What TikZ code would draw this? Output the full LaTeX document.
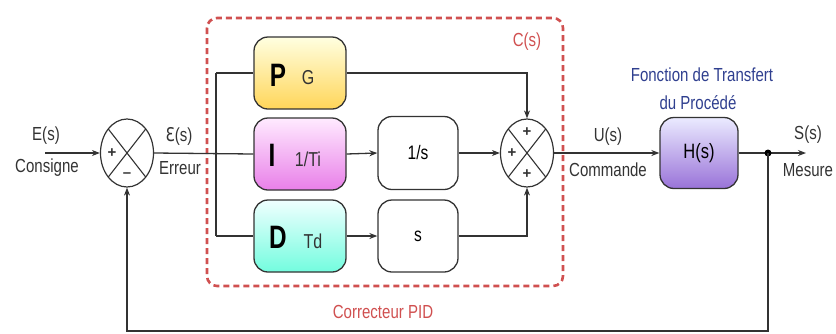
\documentclass[tikz,border=0pt]{standalone}
\usepackage{graphicx}
\usepackage{fontspec}
\setmainfont{Liberation Sans}
\newfontfamily\dejavu{DejaVu Sans}
\usetikzlibrary{shapes.geometric,arrows.meta,calc}
\definecolor{linec}{HTML}{333333}
\definecolor{redc}{HTML}{D05050}
\definecolor{bluec}{HTML}{2F3F8F}
\newcommand\tallt[1]{\scalebox{0.97}[1.22]{#1}}
\tikzset{
  lbl/.style={font=\fontsize{15.5}{17}\selectfont, text=linec, inner sep=0pt},
  redlbl/.style={font=\fontsize{15.5}{17}\selectfont, text=redc, inner sep=0pt},
  bluelbl/.style={font=\fontsize{15.5}{17}\selectfont, text=bluec, inner sep=0pt},
  blk/.style={draw=linec, line width=1.3pt, rounded corners=14pt, minimum width=92pt, minimum height=72pt, inner sep=0pt},
  sumnode/.style={draw=linec, line width=1.2pt, ellipse, minimum width=53pt, minimum height=68pt, inner sep=0pt},
  wire/.style={draw=linec, line width=1.3pt},
  arr/.style={wire, -{Stealth[length=8pt,width=6pt]}},
  sgn/.style={font=\fontsize{15}{16}\selectfont\bfseries, text=linec, inner sep=0pt},
  big/.style={font=\fontsize{27}{27}\selectfont\bfseries, inner sep=0pt},
  small/.style={font=\fontsize{16.5}{17}\selectfont, text=linec, inner sep=0pt}
}
\begin{document}
\begin{tikzpicture}[x=1pt,y=-1pt]
\useasboundingbox (0,0) rectangle (836,333);
% dashed correcteur box
\draw[redc, line width=2.6pt, dash pattern=on 6pt off 4pt, rounded corners=10pt] (207,18) rectangle (563,286);
\node[redlbl] (cs) at (527,42) {\tallt{C(s)}};
\node[redlbl] (cpid) at (383,312) {\tallt{Correcteur PID}};
% sums
\node[sumnode] (s1) at (127,153) {};
\node[sumnode] (s2) at (527,153) {};
\foreach \c in {s1,s2}{
  \draw[linec, line width=1.1pt] ($(\c)+(-18.7,-24)$) -- ($(\c)+(18.7,24)$);
  \draw[linec, line width=1.1pt] ($(\c)+(-18.7,24)$) -- ($(\c)+(18.7,-24)$);
}
\node[sgn] (p1) at ($(s1)+(-15,0)$) {+};
\node[sgn] (m1) at ($(s1)+(0,22)$) {\textendash};
\node[sgn] (p2a) at ($(s2)+(0,-21)$) {+};
\node[sgn] (p2b) at ($(s2)+(-15,0)$) {+};
\node[sgn] (p2c) at ($(s2)+(0,21)$) {+};
% blocks
\node[blk, top color=yellow!12!white, bottom color=orange!50!yellow!65!white] (P) at (300,73) {};
\node[big] (Pl) at (278,75) {\scalebox{0.9}[1.2]{P}};
\node[small] (Pg) at (308,78) {\tallt{G}};
\node[blk, top color=magenta!8!white, bottom color=violet!35!magenta!50!white] (I) at (300,154) {};
\node[big] (Il) at (272,155) {\scalebox{0.9}[1.2]{I}};
\node[small] (Iti) at (308,159) {\tallt{1/Ti}};
\node[blk, top color=cyan!6!white, bottom color=teal!15!green!25!cyan!55!white] (D) at (300,236) {};
\node[big] (Dl) at (278,237) {\scalebox{0.9}[1.2]{D}};
\node[small] (Dtd) at (313,241) {\tallt{Td}};
\node[blk, fill=white, minimum width=80pt, minimum height=73pt] (int) at (418,153) {\fontsize{16}{17}\selectfont\tallt{1/s}};
\node[blk, fill=white, minimum width=80pt, minimum height=72pt] (der) at (418,236) {\fontsize{16}{17}\selectfont\tallt{s}};
\node[blk, top color=blue!8!white, bottom color=blue!45!violet!55!white, minimum width=78pt, minimum height=71pt] (H) at (699,153) {\fontsize{17}{18}\selectfont\tallt{H(s)}};
\node[bluelbl] (ft1) at (702,75) {\tallt{Fonction de Transfert}};
\node[bluelbl] (ft2) at (698,103) {\tallt{du Procédé}};
% labels
\node[lbl] (es) at (46,136) {\tallt{E(s)}};
\node[lbl] (cons) at (47,168) {\tallt{Consigne}};
\node[lbl] (eps) at (179,136) {\tallt{{\dejavu Ɛ}(s)}};
\node[lbl] (err) at (180,168) {\tallt{Erreur}};
\node[lbl] (us) at (608,137) {\tallt{U(s)}};
\node[lbl] (cmd) at (608,170) {\tallt{Commande}};
\node[lbl] (ss) at (808,135) {\tallt{S(s)}};
\node[lbl] (mes) at (808,170) {\tallt{Mesure}};
% coordinates
\coordinate (in) at (45,153);
\coordinate (splitP) at (216,73);
\coordinate (splitD) at (216,236);
\coordinate (pc) at (527,73);
\coordinate (dc) at (527,236);
\coordinate (out) at (806,153);
\coordinate (fb1) at (768,331);
\coordinate (fb2) at (127,331);
% wires
\draw[arr] (in) -- (s1.west);
\draw[wire] (s1.east) -- (I.west);
\draw[wire] (splitP) -- (splitD);
\draw[wire] (splitP) -- (P.west);
\draw[wire] (splitD) -- (D.west);
\draw[arr] (I.east) -- (int.west);
\draw[arr] (D.east) -- (der.west);
\draw[arr] (int.east) -- (s2.west);
\draw[arr] (P.east) -- (pc) -- (s2.north);
\draw[arr] (der.east) -- (dc) -- (s2.south);
\draw[arr] (s2.east) -- (H.west);
\draw[arr] (H.east) -- (out);
\node[circle, fill=black, inner sep=0pt, minimum size=7pt] (dot) at (768,153) {};
\draw[arr] (dot.center) -- (fb1) -- (fb2) -- (s1.south);
\end{tikzpicture}
\end{document}
